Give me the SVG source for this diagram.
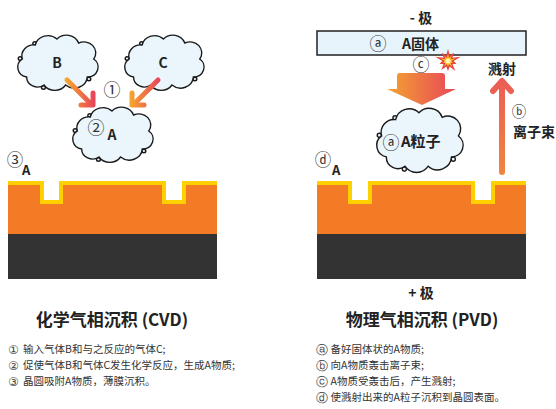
<svg xmlns="http://www.w3.org/2000/svg" width="556" height="409" viewBox="0 0 556 409">
  <style>
    text { font-family: "Noto Sans CJK SC", "Noto Sans", sans-serif; fill: #222; }
    .lbl { font-size: 14px; font-weight: bold; }
    .circ { font-size: 17px; fill: #333; text-anchor: middle; }
    .title { font-size: 17px; font-weight: bold; text-anchor: middle; }
    .item { font-size: 10.5px; fill: #333; }
    .icirc { font-family: "DejaVu Sans", sans-serif; font-size: 12px; fill: #444; text-anchor: middle; }
    .cloud { fill: #eaf5fc; stroke: #1a1a1a; stroke-width: 1.4; vector-effect: non-scaling-stroke; }
    .wafer-base { fill: #333333; }
    .wafer-mid { fill: #f37b26; }
    .wafer-film { fill: #ffd000; }
  </style>
  <defs>
    <!-- cloud outline, roughly 4..77 x 2..57 in its own units -->
    <g id="cloudShape">
      <circle class="cloud" cx="19.5" cy="10.5" r="1.8"/>
      <circle class="cloud" cx="6" cy="25.5" r="1.8"/>
      <circle class="cloud" cx="27.5" cy="54.5" r="1.8"/>
      <circle class="cloud" cx="69.5" cy="46" r="1.8"/>
      <path class="cloud" d="M12,44 A10,10 0 0 1 8,26 A11,11 0 0 1 20,12 A12,12 0 0 1 40,6 A12,12 0 0 1 60,10 A11,11 0 0 1 74,26 A10,10 0 0 1 68,44 A12,12 0 0 1 48,52 A12,12 0 0 1 28,52 A10,10 0 0 1 12,44 Z"/>
    </g>
    <polygon id="burst" points="448,50 449.5,56.2 453.3,53.7 452,58.1 459.4,57.3 453,61 455.6,63.5 452,63.9 454.5,69.9 449.5,65.8 448,70 446.5,65.8 442.1,69.1 444,63.9 440.4,63.5 443,61 436.6,57.3 444,58.1 442.7,53.7 446.5,56.2"/>
    <linearGradient id="gradB" gradientUnits="userSpaceOnUse" x1="66" y1="0" x2="95" y2="0">
      <stop offset="0" stop-color="#f6a62e"/>
      <stop offset="1" stop-color="#e8435a"/>
    </linearGradient>
    <linearGradient id="gradC" gradientUnits="userSpaceOnUse" x1="130" y1="0" x2="160" y2="0">
      <stop offset="0" stop-color="#f6a62e"/>
      <stop offset="1" stop-color="#e8435a"/>
    </linearGradient>
    <linearGradient id="gradDown" gradientUnits="userSpaceOnUse" x1="387" y1="0" x2="456" y2="0">
      <stop offset="0" stop-color="#f3a431"/>
      <stop offset="1" stop-color="#e8455a"/>
    </linearGradient>
    <linearGradient id="gradUp" gradientUnits="userSpaceOnUse" x1="0" y1="80" x2="0" y2="173">
      <stop offset="0" stop-color="#ea5d55"/>
      <stop offset="1" stop-color="#f0853e"/>
    </linearGradient>
  </defs>

  <!-- ===== CVD (left) ===== -->
  <g id="cloud-b">
    <use href="#cloudShape" transform="translate(18,35) scale(1.082,1) translate(-4,-2)"/>
    <text class="lbl" x="57" y="68" text-anchor="middle">B</text>
  </g>
  <g id="cloud-c">
    <use href="#cloudShape" transform="translate(125,35) scale(1.068,1) translate(-4,-2)"/>
    <text class="lbl" x="163" y="68" text-anchor="middle">C</text>
  </g>
  <g id="cloud-a-cvd">
    <use href="#cloudShape" transform="translate(73,107) scale(1.082,1) translate(-4,-2)"/>
    <text class="circ" x="96" y="134">②</text>
    <text class="lbl" x="112" y="140" text-anchor="middle">A</text>
  </g>
  <g id="step1-label">
    <text class="circ" x="112" y="95.5">①</text>
  </g>

  <g id="connectors-cvd" fill="none" stroke-linecap="round" stroke-linejoin="round" stroke-width="5">
    <g stroke="url(#gradB)">
      <line x1="67" y1="80" x2="91" y2="104"/>
      <polyline points="81,105 93,105 93,93"/>
    </g>
    <g stroke="url(#gradC)">
      <line x1="158" y1="80" x2="134" y2="104"/>
      <polyline points="144,105 132,105 132,93"/>
    </g>
  </g>

  <g id="wafer-cvd">
    <rect class="wafer-base" x="8" y="234" width="209" height="45"/>
    <path class="wafer-mid" d="M8,185 H40 V204 H63 V185 H162 V204 H186 V185 H217 V234 H8 Z"/>
    <path class="wafer-film" d="M8,181 H44 V200 H59 V181 H166 V200 H182 V181 H217 V185 H186 V204 H162 V185 H63 V204 H40 V185 H8 Z"/>
    <text class="circ" x="15" y="165.5" style="font-size:16.5px">③</text>
    <text class="lbl" x="22" y="175" style="font-size:13px">A</text>
  </g>

  <g id="title-cvd">
    <text class="title" x="112" y="326">化学气相沉积 (CVD)</text>
  </g>
  <g id="steps-cvd">
    <text class="icirc" x="13.5" y="354">①</text>
    <text class="item" x="23" y="353">输入气体B和与之反应的气体C;</text>
    <text class="icirc" x="13.5" y="370">②</text>
    <text class="item" x="23" y="369">促使气体B和气体C发生化学反应，生成A物质;</text>
    <text class="icirc" x="13.5" y="386">③</text>
    <text class="item" x="23" y="385">晶圆吸附A物质，薄膜沉积。</text>
  </g>

  <!-- ===== PVD (right) ===== -->
  <g id="cathode-label">
    <text class="lbl" x="421" y="23" text-anchor="middle">- 极</text>
  </g>
  <g id="target">
    <rect x="317" y="31" width="209" height="24" fill="#e8f4fb" stroke="#222" stroke-width="1.5"/>
    <text class="circ" x="378" y="49.5">ⓐ</text>
    <text class="lbl" x="402" y="48.5">A固体</text>
  </g>
  <g id="impact">
    <text class="circ" x="421" y="70.5">ⓒ</text>
    <use href="#burst" fill="#e8413c" transform="translate(448,61) scale(1.12) translate(-448,-61)"/>
    <use href="#burst" fill="#fbb529" transform="translate(448,61) scale(0.68) translate(-448,-61)"/>
    <circle cx="448" cy="61" r="2.6" fill="#fff6b0"/>
  </g>

  <g id="connectors-pvd">
    <path fill="url(#gradDown)" d="M400,73 H442 Q445,73 445,76 V89 H456 L422,105 L387,89 H397 V76 Q397,73 400,73 Z"/>
    <g fill="none" stroke="url(#gradUp)" stroke-width="6" stroke-linecap="round" stroke-linejoin="round">
      <line x1="502" y1="172" x2="502" y2="82"/>
      <polyline points="493,91 502,81 511,91"/>
    </g>
  </g>

  <g id="sputter-label">
    <text class="lbl" x="502" y="74" text-anchor="middle">溅射</text>
  </g>
  <g id="beam-label">
    <text class="circ" x="519" y="116.5" style="font-size:14.5px">ⓑ</text>
    <text class="lbl" x="513" y="137">离子束</text>
  </g>

  <g id="cloud-a-pvd">
    <use href="#cloudShape" transform="translate(377,108) scale(1.164,1.164) translate(-4,-2)"/>
    <text class="circ" x="391" y="148.5">ⓐ</text>
    <text class="lbl" x="401" y="147" style="font-size:15px">A粒子</text>
  </g>

  <g id="wafer-pvd">
    <rect class="wafer-base" x="317" y="234" width="209" height="45"/>
    <path class="wafer-mid" d="M317,185 H348 V204 H372 V185 H471 V204 H495 V185 H526 V234 H317 Z"/>
    <path class="wafer-film" d="M317,181 H352 V200 H368 V181 H475 V200 H491 V181 H526 V185 H495 V204 H471 V185 H372 V204 H348 V185 H317 Z"/>
    <text class="circ" x="323" y="165.5" style="font-size:16.5px">ⓓ</text>
    <text class="lbl" x="332" y="175" style="font-size:13px">A</text>
  </g>
  <g id="anode-label">
    <text class="lbl" x="421" y="298" text-anchor="middle">+ 极</text>
  </g>

  <g id="title-pvd">
    <text class="title" x="422" y="326">物理气相沉积 (PVD)</text>
  </g>
  <g id="steps-pvd">
    <text class="icirc" x="322" y="354">ⓐ</text>
    <text class="item" x="330.5" y="353">备好固体状的A物质;</text>
    <text class="icirc" x="322" y="370">ⓑ</text>
    <text class="item" x="330.5" y="369">向A物质轰击离子束;</text>
    <text class="icirc" x="322" y="386">ⓒ</text>
    <text class="item" x="330.5" y="385">A物质受轰击后，产生溅射;</text>
    <text class="icirc" x="322" y="402">ⓓ</text>
    <text class="item" x="330.5" y="401">使溅射出来的A粒子沉积到晶圆表面。</text>
  </g>
</svg>
